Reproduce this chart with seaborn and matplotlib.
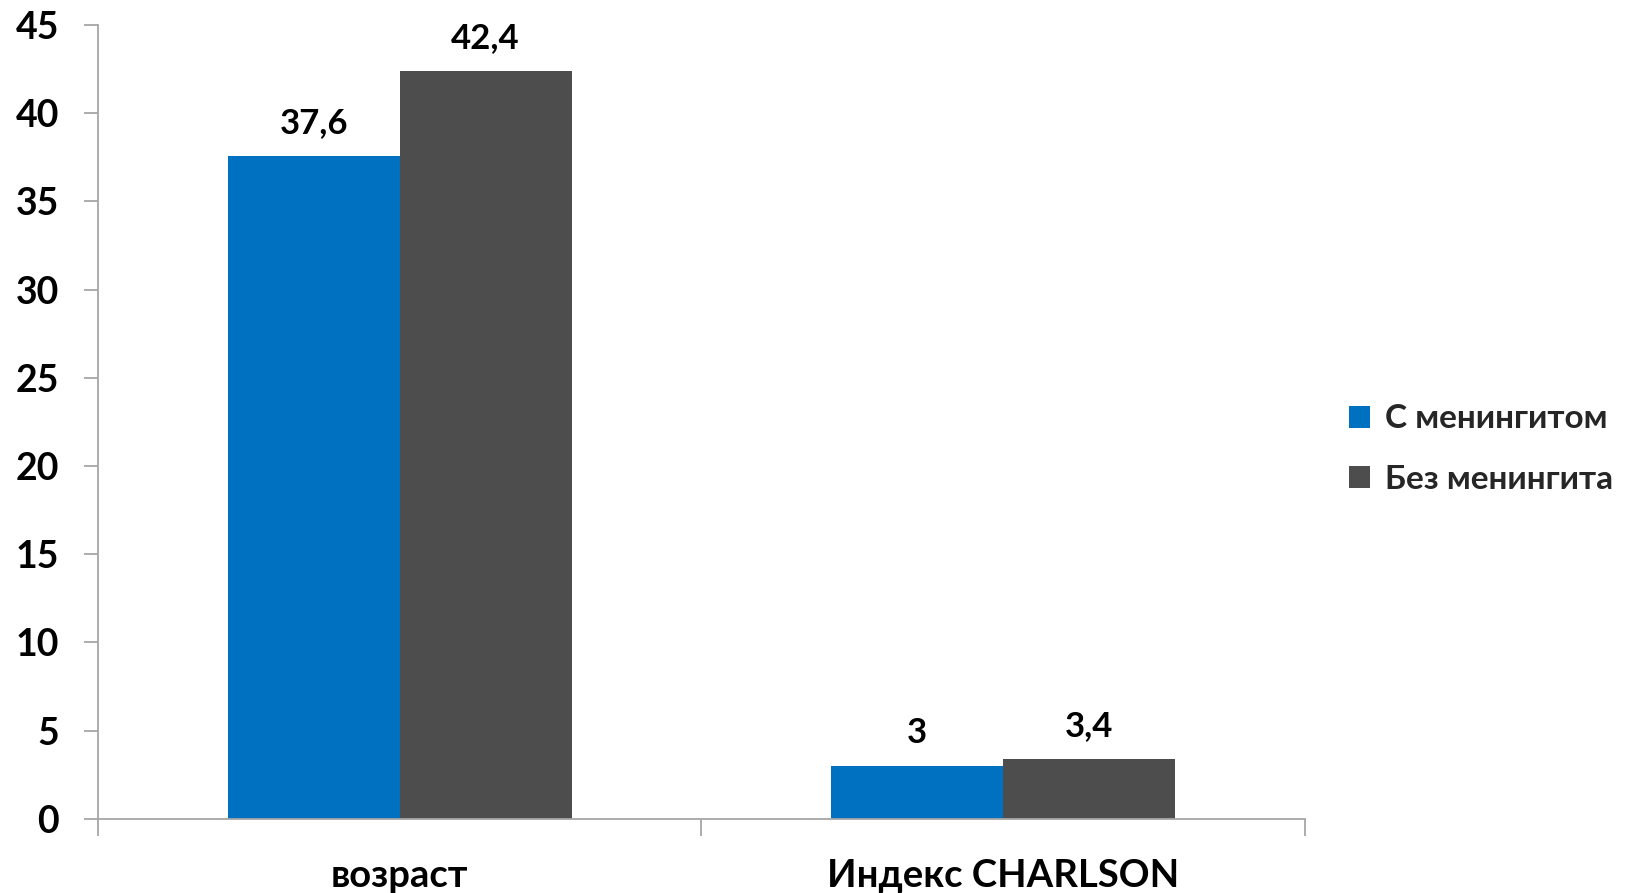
import matplotlib
matplotlib.use("Agg")
import matplotlib.pyplot as plt
import seaborn as sns
import pandas as pd

# Chart data
categories = ["возраст", "Индекс CHARLSON"]
groups = ["С менингитом", "Без менингита"]
with_meningitis = [37.6, 3.0]
without_meningitis = [42.4, 3.4]
value_labels = {"С менингитом": ["37,6", "3"], "Без менингита": ["42,4", "3,4"]}
y_ticks = [0, 5, 10, 15, 20, 25, 30, 35, 40, 45]

colors = {"С менингитом": "#0070C0", "Без менингита": "#4D4D4D"}

sns.set_theme(style="white")
plt.rcParams["font.family"] = ["Lato", "DejaVu Sans"]
plt.rcParams["font.weight"] = "bold"

df = pd.DataFrame({
    "category": categories * 2,
    "group": [groups[0]] * len(categories) + [groups[1]] * len(categories),
    "value": with_meningitis + without_meningitis,
})

fig = plt.figure(figsize=(16.27, 8.93), dpi=100)
ax = fig.add_axes([0.0602, 0.083, 0.7418, 0.889])

sns.barplot(data=df, x="category", y="value", hue="group", hue_order=groups,
            palette=colors, width=0.57, saturation=1, ax=ax, legend=True,
            errorbar=None, linewidth=0)

# Value labels above each bar
for container, grp in zip(ax.containers, groups):
    ax.bar_label(container, labels=value_labels[grp], padding=12,
                 fontsize=25, fontweight="bold", color="black")

ax.set_xlim(-0.5, 1.5)
ax.set_ylim(0, 45)
ax.set_yticks(y_ticks)
ax.set_xticks([-0.5, 0.5, 1.5], minor=False)
ax.set_xticks([0, 1], minor=True)
ax.set_xticklabels(["", "", ""])
ax.set_xticklabels(categories, minor=True)
ax.set_xlabel("")
ax.set_ylabel("")

for side in ["top", "right"]:
    ax.spines[side].set_visible(False)
for side in ["left", "bottom"]:
    ax.spines[side].set_color("#A6A6A6")
    ax.spines[side].set_linewidth(1.3)

ax.tick_params(axis="y", which="major", direction="out", length=10, width=1.3,
               color="#A6A6A6", labelsize=27, pad=18, left=True)
ax.tick_params(axis="x", which="major", direction="out", length=12, width=1.3,
               color="#A6A6A6", bottom=True)
ax.tick_params(axis="x", which="minor", length=0, labelsize=27.5, pad=29)
for lab in ax.get_yticklabels() + ax.get_xticklabels(minor=True):
    lab.set_fontweight("bold")
    lab.set_color("black")

handles, labels = ax.get_legend_handles_labels()
ax.legend(handles, labels, loc="center left", bbox_to_anchor=(0.829, 0.497),
          bbox_transform=fig.transFigure, frameon=False, borderaxespad=0,
          borderpad=0, prop={"size": 24, "weight": "bold"}, handlelength=0.65,
          handleheight=0.65, handletextpad=0.45, labelspacing=0.95)

fig.savefig("out.png", dpi=100, facecolor="white")
